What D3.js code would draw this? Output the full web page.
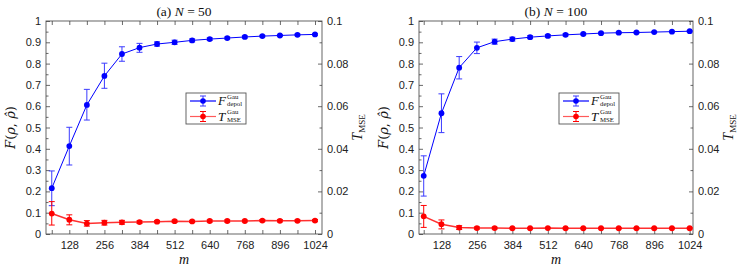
<!DOCTYPE html>
<html>
<head>
<meta charset="utf-8">
<script src="https://cdn.jsdelivr.net/npm/d3@7"></script>
<style>
  body { margin: 0; background: #fff; }
  svg { display: block; font-family: "Liberation Serif", "DejaVu Serif", serif; }
  .tick text { font-size: 11px; fill: #222; }
  .axis path { display: none; }
  .axis line { stroke: #444; stroke-width: 0.8; }
</style>
</head>
<body>
<div id="chart"></div>
<script>
// Sample sizes m (shared by both panels)
const M = [64, 128, 192, 256, 320, 384, 448, 512, 576, 640, 704, 768, 832, 896, 960, 1024];
const xTickLabels = [128, 256, 384, 512, 640, 768, 896, 1024];
const leftTicks = [0, 0.1, 0.2, 0.3, 0.4, 0.5, 0.6, 0.7, 0.8, 0.9, 1];
const rightTicks = [0, 0.02, 0.04, 0.06, 0.08, 0.1];

// (a) N = 50 -- fidelity F (left axis) and T_MSE (right axis), with error bar ends
const fA   = [0.215, 0.413, 0.606, 0.742, 0.845, 0.875, 0.892, 0.900, 0.909, 0.915, 0.920, 0.925, 0.929, 0.932, 0.935, 0.937];
const fALo = [0.133, 0.324, 0.535, 0.684, 0.811, 0.853, 0.882, 0.890, 0.902, 0.909, 0.915, 0.920, 0.925, 0.928, 0.931, 0.933];
const fAHi = [0.296, 0.501, 0.679, 0.802, 0.879, 0.895, 0.902, 0.910, 0.916, 0.921, 0.925, 0.930, 0.933, 0.936, 0.939, 0.941];
const tA   = [0.0096, 0.0067, 0.0049, 0.0053, 0.0055, 0.0056, 0.0058, 0.0060, 0.0059, 0.0061, 0.0061, 0.0061, 0.0063, 0.0062, 0.0062, 0.0063];
const tALo = [0.0042, 0.0043, 0.0037, 0.0042, 0.0046, 0.0050, 0.0053, 0.0055, 0.0054, 0.0056, 0.0056, 0.0057, 0.0058, 0.0057, 0.0058, 0.0058];
const tAHi = [0.0152, 0.0090, 0.0063, 0.0064, 0.0064, 0.0062, 0.0063, 0.0065, 0.0064, 0.0066, 0.0066, 0.0065, 0.0068, 0.0067, 0.0066, 0.0068];

// (b) N = 100
const fB   = [0.273, 0.567, 0.781, 0.874, 0.903, 0.915, 0.924, 0.930, 0.935, 0.939, 0.943, 0.945, 0.946, 0.948, 0.950, 0.952];
const fBLo = [0.178, 0.476, 0.728, 0.847, 0.891, 0.906, 0.917, 0.924, 0.930, 0.935, 0.939, 0.941, 0.943, 0.945, 0.947, 0.949];
const fBHi = [0.367, 0.658, 0.833, 0.901, 0.915, 0.924, 0.931, 0.936, 0.940, 0.943, 0.947, 0.949, 0.949, 0.951, 0.953, 0.955];
const tB   = [0.0083, 0.0046, 0.0030, 0.0028, 0.0028, 0.0027, 0.0027, 0.0028, 0.0027, 0.0027, 0.0027, 0.0027, 0.0027, 0.0027, 0.0027, 0.0027];
const tBLo = [0.0031, 0.0024, 0.0021, 0.0023, 0.0024, 0.0024, 0.0024, 0.0025, 0.0024, 0.0024, 0.0024, 0.0024, 0.0024, 0.0024, 0.0024, 0.0024];
const tBHi = [0.0134, 0.0066, 0.0039, 0.0033, 0.0032, 0.0030, 0.0030, 0.0031, 0.0030, 0.0030, 0.0030, 0.0030, 0.0030, 0.0030, 0.0030, 0.0030];

const BLUE = "#0000ff", BLUE_ERR = "#3b3bff", RED = "#ff0000", RED_LINE = "#ff3030";

const svg = d3.select("#chart").append("svg").attr("width", 747).attr("height", 270);

function drawPanel(p) {
  const top = 21, bottom = 234;
  const x = d3.scaleLinear(p.xDomain, [p.left, p.right]);
  const yL = d3.scaleLinear([0, 1], [bottom, top]);
  const yR = d3.scaleLinear([0, 0.1], [bottom, top]);
  const g = svg.append("g");

  // box
  g.append("rect").attr("x", p.left).attr("y", top)
    .attr("width", p.right - p.left).attr("height", bottom - top)
    .attr("fill", "none").attr("stroke", "#555").attr("stroke-width", 0.9);

  // inward ticks: x bottom + top (every 64), labels at multiples of 128
  g.append("g").attr("class", "axis").attr("transform", `translate(0,${bottom})`)
    .call(d3.axisBottom(x).tickValues(M).tickSizeInner(-4).tickSizeOuter(0).tickPadding(7)
      .tickFormat((d) => (xTickLabels.includes(d) ? d : "")));
  g.append("g").attr("class", "axis").attr("transform", `translate(0,${top})`)
    .call(d3.axisTop(x).tickValues(M).tickSizeInner(-4).tickSizeOuter(0).tickFormat(""));

  // left axis (F), minor at 0.05
  g.append("g").attr("class", "axis").attr("transform", `translate(${p.left},0)`)
    .call(d3.axisLeft(yL).tickValues(leftTicks).tickSizeInner(-4).tickSizeOuter(0).tickPadding(5)
      .tickFormat((d) => d3.format("~g")(d)));
  g.append("g").attr("class", "axis").attr("transform", `translate(${p.left},0)`)
    .call(d3.axisLeft(yL).tickValues(d3.range(0.05, 1, 0.1)).tickSizeInner(-2.5).tickSizeOuter(0).tickFormat(""));

  // right axis (T_MSE)
  g.append("g").attr("class", "axis").attr("transform", `translate(${p.right},0)`)
    .call(d3.axisRight(yR).tickValues(rightTicks).tickSizeInner(-4).tickSizeOuter(0).tickPadding(5)
      .tickFormat((d) => d3.format("~g")(d)));
  g.append("g").attr("class", "axis").attr("transform", `translate(${p.right},0)`)
    .call(d3.axisRight(yR).tickValues(d3.range(0.01, 0.1, 0.02)).tickSizeInner(-2.5).tickSizeOuter(0).tickFormat(""));

  // series
  const series = [
    { v: p.f, lo: p.fLo, hi: p.fHi, y: yL, line: BLUE, err: BLUE_ERR, mark: BLUE, w: 1 },
    { v: p.t, lo: p.tLo, hi: p.tHi, y: yR, line: RED_LINE, err: RED, mark: RED, w: 1.5 }
  ];
  series.forEach((s) => {
    const eb = g.append("g").attr("stroke", s.err).attr("stroke-width", 1);
    M.forEach((m, i) => {
      const cx = x(m);
      eb.append("line").attr("x1", cx).attr("x2", cx).attr("y1", s.y(s.lo[i])).attr("y2", s.y(s.hi[i]));
      eb.append("line").attr("x1", cx - 3).attr("x2", cx + 3).attr("y1", s.y(s.lo[i])).attr("y2", s.y(s.lo[i]));
      eb.append("line").attr("x1", cx - 3).attr("x2", cx + 3).attr("y1", s.y(s.hi[i])).attr("y2", s.y(s.hi[i]));
    });
    g.append("path").datum(M.map((m, i) => [m, s.v[i]]))
      .attr("fill", "none").attr("stroke", s.line).attr("stroke-width", s.w)
      .attr("d", d3.line().x((d) => x(d[0])).y((d) => s.y(d[1])));
    g.append("g").selectAll("circle").data(M).join("circle")
      .attr("cx", (m) => x(m)).attr("cy", (m, i) => s.y(s.v[i])).attr("r", 2.9).attr("fill", s.mark);
  });

  // title
  const cx = (p.left + p.right) / 2;
  const t = g.append("text").attr("x", cx).attr("y", 16).attr("text-anchor", "middle")
    .attr("font-size", 13.5).attr("fill", "#111");
  t.append("tspan").text(p.tag + " ");
  t.append("tspan").attr("font-style", "italic").text("N");
  t.append("tspan").text(" = " + p.n);

  // x label
  g.append("text").attr("x", cx).attr("y", 264).attr("text-anchor", "middle")
    .attr("font-size", 14).attr("font-style", "italic").attr("fill", "#111").text("m");

  // left y label
  const yl = g.append("text").attr("transform", `translate(${p.left - 31},${(top + bottom) / 2}) rotate(-90)`)
    .attr("text-anchor", "middle").attr("font-size", 13).attr("fill", "#111")
    .attr("font-family", "'DejaVu Serif', serif");
  yl.append("tspan").attr("font-style", "italic").text("F");
  yl.append("tspan").text("(");
  yl.append("tspan").attr("font-style", "italic").text("ρ");
  yl.append("tspan").text(", ");
  yl.append("tspan").attr("font-style", "italic").text("ρ\u0302");
  yl.append("tspan").text(")");

  // right y label
  const yr = g.append("text").attr("transform", `translate(${p.right + 40},${(top + bottom) / 2}) rotate(-90)`)
    .attr("text-anchor", "middle").attr("font-size", 14).attr("fill", "#111");
  yr.append("tspan").attr("font-style", "italic").text("T");
  yr.append("tspan").attr("font-size", 9).attr("dy", 3).text("MSE");

  // legend
  const lx = p.left + 140, ly = 93;
  const lg = g.append("g");
  lg.append("rect").attr("x", lx).attr("y", ly).attr("width", 60).attr("height", 31)
    .attr("fill", "#fff").attr("stroke", "#555").attr("stroke-width", 0.9);
  const items = [
    { line: BLUE, err: BLUE_ERR, mark: BLUE, main: "F", sup: "Gau", sub: "depol" },
    { line: "#ff5a5a", err: RED, mark: RED, main: "T", sup: "Gau", sub: "MSE" }
  ];
  items.forEach((it, i) => {
    const yy = ly + 8 + i * 15.5;
    const mx = lx + 17;
    lg.append("line").attr("x1", lx + 4).attr("x2", lx + 30).attr("y1", yy).attr("y2", yy)
      .attr("stroke", it.line).attr("stroke-width", 1.2);
    lg.append("line").attr("x1", mx).attr("x2", mx).attr("y1", yy - 5).attr("y2", yy + 5).attr("stroke", it.err);
    lg.append("line").attr("x1", mx - 3).attr("x2", mx + 3).attr("y1", yy - 5).attr("y2", yy - 5).attr("stroke", it.err);
    lg.append("line").attr("x1", mx - 3).attr("x2", mx + 3).attr("y1", yy + 5).attr("y2", yy + 5).attr("stroke", it.err);
    lg.append("circle").attr("cx", mx).attr("cy", yy).attr("r", 2.8).attr("fill", it.mark);
    lg.append("text").attr("x", lx + 32).attr("y", yy + 4).attr("font-size", 13)
      .attr("font-style", "italic").attr("fill", "#111").text(it.main);
    lg.append("text").attr("x", lx + 41).attr("y", yy - 2.5).attr("font-size", 6.8).attr("fill", "#111").text(it.sup);
    lg.append("text").attr("x", lx + 41).attr("y", yy + 5).attr("font-size", 6.8).attr("fill", "#111").text(it.sub);
  });
}

drawPanel({ tag: "(a)", n: 50, left: 46, right: 322, xDomain: [43, 1049.5],
  f: fA, fLo: fALo, fHi: fAHi, t: tA, tLo: tALo, tHi: tAHi });
drawPanel({ tag: "(b)", n: 100, left: 419, right: 693, xDomain: [47, 1036],
  f: fB, fLo: fBLo, fHi: fBHi, t: tB, tLo: tBLo, tHi: tBHi });
</script>
</body>
</html>
